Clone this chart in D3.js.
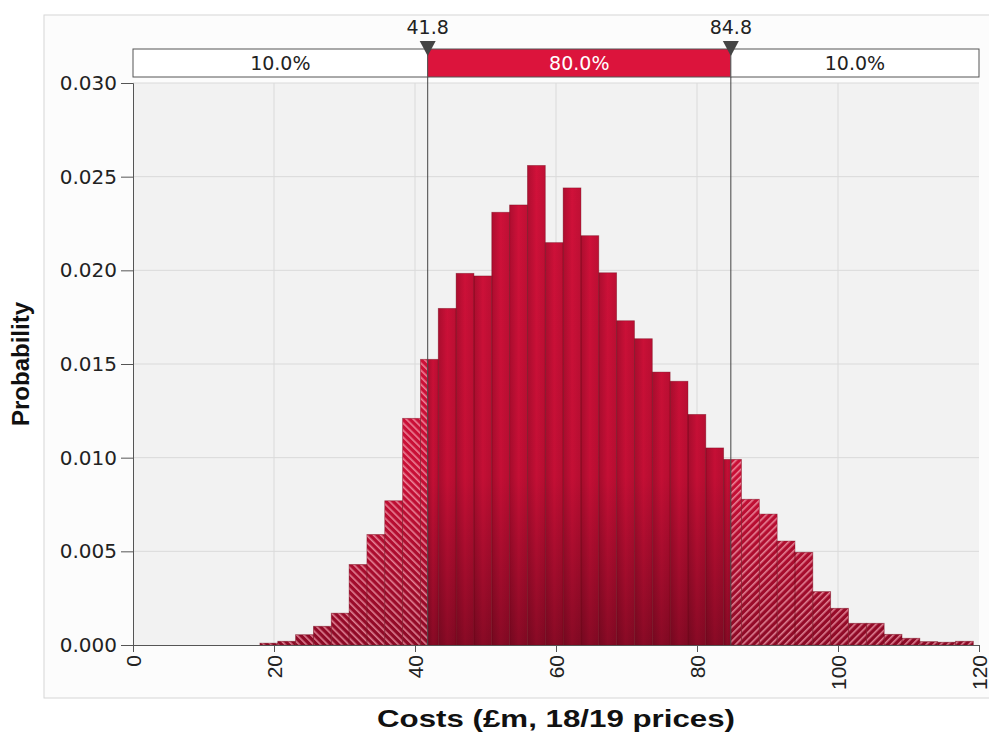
<!DOCTYPE html>
<html>
<head>
<meta charset="utf-8">
<script src="https://cdn.jsdelivr.net/npm/d3@7"></script>
<style>
    body { margin: 0; background: #fff; }
    svg { display: block; }
    .ytick text { font-family: 'DejaVu Sans', sans-serif; font-size: 20px; fill: #222; }
    .xtick text { font-family: 'Liberation Sans', Arial, sans-serif; font-size: 21px; fill: #222; }
    .band-label { font-family: 'DejaVu Sans', sans-serif; font-size: 19px; }
    .axis-title { font-family: 'Liberation Sans', Arial, sans-serif; font-size: 24px; font-weight: bold; fill: #111; }
</style>
</head>
<body>
<div id="chart"></div>
<script>
// histogram (40 bins, about 2.53 wide, starting at 18.0)
const binLow = 18.0
const binWidth = 2.53
const probabilities = [
    0.0001, 0.0002, 0.00055, 0.001, 0.0017, 0.0043, 0.0059, 0.0077, 0.0121, 0.01525,
    0.01797, 0.01984, 0.0197, 0.0231, 0.02349, 0.0256, 0.02148, 0.0244, 0.02185, 0.01987,
    0.01731, 0.01635, 0.01457, 0.01408, 0.01231, 0.01052, 0.00991, 0.00778, 0.00699, 0.00555,
    0.00495, 0.00285, 0.00196, 0.00116, 0.00116, 0.00057, 0.00036, 0.00018, 0.00015, 0.0002
]
const xTicks = [0, 20, 40, 60, 80, 100, 120]
const yTicks = [0, 0.005, 0.01, 0.015, 0.02, 0.025, 0.03]
const cutValues = [41.8, 84.8]
const bandLabels = ['10.0%', '80.0%', '10.0%']
const xTitle = 'Costs (£m, 18/19 prices)'
const yTitle = 'Probability'

const width = 989, height = 736
const plot = {left: 133, right: 979, top: 83, bottom: 645}

const svg = d3.select('#chart').append('svg')
    .attr('width', width)
    .attr('height', height)

const x = d3.scaleLinear().domain([0, 120]).range([plot.left, plot.right])
const y = d3.scaleLinear().domain([0, 0.03]).range([plot.bottom, plot.top])

const defs = svg.append('defs')

// bars get darker towards the base
const vGrad = defs.append('linearGradient')
    .attr('id', 'barFill')
    .attr('gradientUnits', 'userSpaceOnUse')
    .attr('x1', 0).attr('x2', 0)
    .attr('y1', plot.top).attr('y2', plot.bottom)
vGrad.append('stop').attr('offset', '0%').attr('stop-color', '#d8123c')
vGrad.append('stop').attr('offset', '70%').attr('stop-color', '#c80f36')
vGrad.append('stop').attr('offset', '100%').attr('stop-color', '#8c0a26')

// side shading of each bar
const hGrad = defs.append('linearGradient')
    .attr('id', 'barShade')
    .attr('x1', 0).attr('x2', 1).attr('y1', 0).attr('y2', 0)
hGrad.append('stop').attr('offset', '0%').attr('stop-color', '#000').attr('stop-opacity', 0.18)
hGrad.append('stop').attr('offset', '50%').attr('stop-color', '#000').attr('stop-opacity', 0.02)
hGrad.append('stop').attr('offset', '100%').attr('stop-color', '#000').attr('stop-opacity', 0.1)

function addHatch(id, angle) {
    const p = defs.append('pattern')
        .attr('id', id)
        .attr('patternUnits', 'userSpaceOnUse')
        .attr('width', 5).attr('height', 5)
        .attr('patternTransform', 'rotate(' + angle + ')')
    p.append('rect')
        .attr('x', 0).attr('y', 0)
        .attr('width', 1.6).attr('height', 5)
        .attr('fill', '#f7a8b6')
        .attr('fill-opacity', 0.75)
}
addHatch('hatchLeft', -45)
addHatch('hatchRight', 45)

// outer panel
svg.append('rect')
    .attr('x', 44).attr('y', 15)
    .attr('width', width).attr('height', 683)
    .attr('fill', '#fcfcfc')
    .attr('stroke', '#d6d6d6')

// plot background + grid
svg.append('rect')
    .attr('x', plot.left).attr('y', plot.top)
    .attr('width', plot.right - plot.left).attr('height', plot.bottom - plot.top)
    .attr('fill', '#f2f2f2')

svg.append('g')
    .selectAll('line')
    .data(yTicks.slice(1))
    .enter().append('line')
    .attr('x1', plot.left).attr('x2', plot.right)
    .attr('y1', d => y(d)).attr('y2', d => y(d))
    .attr('stroke', '#dadada')

svg.append('g')
    .selectAll('line')
    .data(xTicks.slice(1, -1))
    .enter().append('line')
    .attr('x1', d => x(d)).attr('x2', d => x(d))
    .attr('y1', plot.top).attr('y2', plot.bottom)
    .attr('stroke', '#dadada')

// split every bin at the two cut values
const segments = []
probabilities.forEach((p, i) => {
    const x0 = binLow + i * binWidth
    const x1 = x0 + binWidth
    const parts = [
        [x0, Math.min(x1, cutValues[0]), 'left'],
        [Math.max(x0, cutValues[0]), Math.min(x1, cutValues[1]), 'mid'],
        [Math.max(x0, cutValues[1]), x1, 'right']
    ]
    parts.forEach(part => {
        if (part[1] > part[0]) segments.push({x0: part[0], x1: part[1], p: p, zone: part[2]})
    })
})

const bars = svg.append('g')

bars.selectAll('.bar')
    .data(segments)
    .enter().append('rect')
    .attr('class', 'bar')
    .attr('x', d => x(d.x0))
    .attr('width', d => x(d.x1) - x(d.x0))
    .attr('y', d => y(d.p))
    .attr('height', d => y(0) - y(d.p))
    .attr('fill', 'url(#barFill)')

bars.selectAll('.shade')
    .data(segments.filter(d => d.zone === 'mid'))
    .enter().append('rect')
    .attr('class', 'shade')
    .attr('x', d => x(d.x0))
    .attr('width', d => x(d.x1) - x(d.x0))
    .attr('y', d => y(d.p))
    .attr('height', d => y(0) - y(d.p))
    .attr('fill', 'url(#barShade)')

bars.selectAll('.hatch')
    .data(segments.filter(d => d.zone !== 'mid'))
    .enter().append('rect')
    .attr('class', 'hatch')
    .attr('x', d => x(d.x0))
    .attr('width', d => x(d.x1) - x(d.x0))
    .attr('y', d => y(d.p))
    .attr('height', d => y(0) - y(d.p))
    .attr('fill', d => d.zone === 'left' ? 'url(#hatchLeft)' : 'url(#hatchRight)')

// bar outlines (whole bins)
bars.selectAll('.outline')
    .data(probabilities)
    .enter().append('rect')
    .attr('class', 'outline')
    .attr('x', (d, i) => x(binLow + i * binWidth))
    .attr('width', x(binWidth) - x(0))
    .attr('y', d => y(d))
    .attr('height', d => y(0) - y(d))
    .attr('fill', 'none')
    .attr('stroke', '#6e0819')
    .attr('stroke-opacity', 0.45)
    .attr('stroke-width', 0.8)

// axes
const yAxis = svg.append('g')
    .attr('class', 'ytick')
    .attr('transform', 'translate(' + plot.left + ',0)')
    .call(d3.axisLeft(y).tickValues(yTicks).tickFormat(d3.format('.3f')).tickSize(12).tickPadding(4))
yAxis.select('.domain').attr('stroke', '#555')
yAxis.selectAll('.tick line').attr('stroke', '#555')

const xAxis = svg.append('g')
    .attr('class', 'xtick')
    .attr('transform', 'translate(0,' + plot.bottom + ')')
    .call(d3.axisBottom(x).tickValues(xTicks).tickFormat(d3.format('d')).tickSize(7))
xAxis.select('.domain').attr('stroke', '#555')
xAxis.selectAll('.tick line').attr('stroke', '#555')
xAxis.selectAll('.tick text')
    .attr('transform', 'rotate(-90)')
    .attr('text-anchor', 'end')
    .attr('x', -10)
    .attr('y', 0)
    .attr('dy', '.35em')

// cut lines
svg.append('g')
    .selectAll('line')
    .data(cutValues)
    .enter().append('line')
    .attr('x1', d => x(d)).attr('x2', d => x(d))
    .attr('y1', 77).attr('y2', plot.bottom)
    .attr('stroke', '#444')
    .attr('stroke-width', 1)

// percentile band on top
const bandTop = 49, bandBottom = 77
const bandEdges = [0, cutValues[0], cutValues[1], 120]
const band = svg.append('g')
band.selectAll('rect')
    .data(bandLabels)
    .enter().append('rect')
    .attr('x', (d, i) => x(bandEdges[i]))
    .attr('width', (d, i) => x(bandEdges[i + 1]) - x(bandEdges[i]))
    .attr('y', bandTop)
    .attr('height', bandBottom - bandTop)
    .attr('fill', (d, i) => i === 1 ? '#dc143c' : '#fff')
    .attr('stroke', '#555')
band.selectAll('text')
    .data(bandLabels)
    .enter().append('text')
    .attr('class', 'band-label')
    .attr('x', (d, i) => (x(bandEdges[i]) + x(bandEdges[i + 1])) / 2)
    .attr('y', (bandTop + bandBottom) / 2)
    .attr('dy', '.36em')
    .attr('text-anchor', 'middle')
    .attr('fill', (d, i) => i === 1 ? '#fff' : '#222')
    .text(d => d)

// markers + values
const markers = svg.append('g')
markers.selectAll('path')
    .data(cutValues)
    .enter().append('path')
    .attr('d', d => 'M' + (x(d) - 8) + ',41 L' + (x(d) + 8) + ',41 L' + x(d) + ',56 Z')
    .attr('fill', '#444')
markers.selectAll('text')
    .data(cutValues)
    .enter().append('text')
    .attr('class', 'band-label')
    .attr('x', d => x(d))
    .attr('y', 34)
    .attr('text-anchor', 'middle')
    .attr('fill', '#222')
    .text(d => d.toFixed(1))

// titles (the x title is drawn wide, as in the picture)
svg.append('text')
    .attr('class', 'axis-title')
    .attr('x', (plot.left + plot.right) / 2)
    .attr('y', 727)
    .attr('text-anchor', 'middle')
    .attr('textLength', 358)
    .attr('lengthAdjust', 'spacingAndGlyphs')
    .text(xTitle)

svg.append('text')
    .attr('class', 'axis-title')
    .attr('transform', 'translate(29,' + (plot.top + plot.bottom) / 2 + ') rotate(-90)')
    .attr('text-anchor', 'middle')
    .text(yTitle)
</script>
</body>
</html>
